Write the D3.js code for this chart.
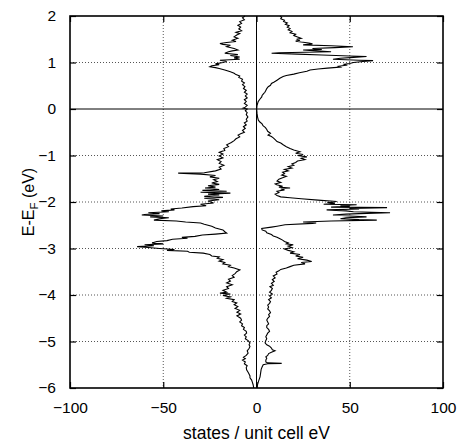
<!DOCTYPE html>
<html>
<head>
<meta charset="utf-8">
<script src="https://cdn.jsdelivr.net/npm/d3@7"></script>
<style>
  body { margin: 0; background: #fff; }
  text { font-family: "Liberation Sans", Arial, sans-serif; }
</style>
</head>
<body>
<script>
let width = 461
let height = 443
let margin = { top: 16, right: 18, bottom: 55, left: 70 }

// tick values
let xTicks = [-100, -50, 0, 50, 100]
let yTicks = [-6, -5, -4, -3, -2, -1, 0, 1, 2]

// spin down, [E - EF, states] (drawn to the left)
let spinDown = [
  [2.00, -6.2], [1.96, -7.5], [1.92, -6.5], [1.88, -9], [1.84, -8], [1.80, -10], [1.76, -8.5], [1.72, -9.5],
  [1.68, -8], [1.65, -11], [1.62, -9], [1.59, -10.6], [1.55, -12], [1.52, -10], [1.48, -13], [1.45, -11],
  [1.43, -16], [1.41, -19.6], [1.39, -18], [1.37, -14], [1.34, -16], [1.30, -12], [1.27, -10], [1.25, -13],
  [1.23, -15], [1.20, -17], [1.17, -10], [1.15, -14], [1.12, -9], [1.10, -12], [1.07, -9], [1.05, -19.6],
  [1.02, -16], [1.00, -18], [0.97, -22], [0.95, -20], [0.93, -24], [0.91, -25], [0.89, -22], [0.87, -20],
  [0.84, -17], [0.80, -14], [0.77, -12], [0.74, -11], [0.71, -9], [0.68, -9.5], [0.64, -7.5], [0.60, -8],
  [0.56, -6.5], [0.52, -7.5], [0.48, -6.2], [0.44, -7], [0.40, -5.5], [0.36, -6.5], [0.32, -5], [0.28, -6],
  [0.24, -5], [0.20, -6.5], [0.16, -5.5], [0.12, -6.5], [0.08, -5], [0.04, -6], [0.02, -7.2], [0.00, -5],
  [-0.04, -6], [-0.08, -5], [-0.12, -5.5], [-0.17, -4.6], [-0.22, -5.5], [-0.26, -5], [-0.30, -6.5], [-0.34, -5.5],
  [-0.38, -7], [-0.42, -6], [-0.46, -7.5], [-0.50, -6.5], [-0.53, -8.5], [-0.56, -9.9], [-0.60, -9], [-0.64, -11],
  [-0.68, -12], [-0.72, -13.5], [-0.77, -16], [-0.81, -15], [-0.85, -17.5], [-0.89, -17], [-0.93, -20], [-0.97, -18],
  [-1.01, -20], [-1.05, -18], [-1.09, -21], [-1.13, -19], [-1.17, -20], [-1.21, -17.5], [-1.25, -20], [-1.29, -19],
  [-1.33, -22], [-1.37, -28], [-1.38, -42], [-1.40, -30], [-1.43, -22], [-1.46, -25], [-1.49, -20], [-1.52, -23],
  [-1.56, -21], [-1.59, -24], [-1.62, -20], [-1.65, -26], [-1.68, -22], [-1.70, -27.6], [-1.73, -20], [-1.75, -29],
  [-1.77, -16], [-1.79, -30], [-1.81, -14], [-1.83, -26], [-1.85, -20], [-1.88, -28], [-1.90, -18], [-1.92, -28],
  [-1.95, -20], [-1.98, -26], [-2.02, -23], [-2.05, -30], [-2.08, -27], [-2.10, -34], [-2.13, -40], [-2.15, -46],
  [-2.17, -44], [-2.19, -51], [-2.21, -47], [-2.23, -58], [-2.25, -52], [-2.27, -60], [-2.28, -61.5], [-2.30, -50],
  [-2.32, -57], [-2.34, -47], [-2.36, -52], [-2.39, -55], [-2.41, -43], [-2.43, -38], [-2.45, -30], [-2.48, -28],
  [-2.52, -24], [-2.56, -22], [-2.60, -18], [-2.64, -17], [-2.67, -16], [-2.69, -22], [-2.71, -29], [-2.74, -33],
  [-2.76, -40], [-2.78, -37], [-2.80, -45], [-2.83, -48], [-2.85, -53.5], [-2.88, -56], [-2.90, -50], [-2.92, -60],
  [-2.94, -55], [-2.96, -64], [-2.98, -58], [-3.00, -52], [-3.02, -44], [-3.04, -48], [-3.06, -37], [-3.08, -36],
  [-3.10, -28.6], [-3.13, -25], [-3.16, -24], [-3.18, -20], [-3.21, -21], [-3.24, -18], [-3.27, -20], [-3.30, -17],
  [-3.33, -18], [-3.36, -14], [-3.39, -15], [-3.42, -12], [-3.46, -8.9], [-3.50, -10.6], [-3.54, -11.5], [-3.58, -13],
  [-3.62, -12], [-3.66, -15], [-3.70, -14], [-3.74, -16], [-3.78, -13], [-3.82, -16], [-3.86, -15], [-3.90, -18],
  [-3.94, -16], [-3.96, -19.6], [-3.98, -14], [-4.01, -18], [-4.04, -14], [-4.07, -16], [-4.10, -12], [-4.14, -13],
  [-4.17, -10.6], [-4.21, -12], [-4.25, -10], [-4.29, -11.5], [-4.33, -9], [-4.37, -10.5], [-4.41, -8.5], [-4.45, -10.5],
  [-4.50, -8.5], [-4.54, -8], [-4.58, -9], [-4.62, -7.5], [-4.66, -8], [-4.70, -6.5], [-4.74, -7], [-4.78, -5.5],
  [-4.82, -5.3], [-4.86, -6.5], [-4.90, -5.5], [-4.94, -6], [-4.98, -4.5], [-5.03, -3.5], [-5.07, -4], [-5.11, -3.5],
  [-5.15, -4], [-5.20, -5], [-5.25, -4.5], [-5.30, -5.5], [-5.34, -7], [-5.37, -6], [-5.40, -7.5], [-5.44, -6],
  [-5.48, -6.5], [-5.52, -5], [-5.56, -5.5], [-5.61, -5.3], [-5.66, -4.5], [-5.70, -4], [-5.74, -3.5], [-5.78, -3.5],
  [-5.83, -2.6], [-5.88, -2.2], [-5.93, -1.8], [-6.00, -1.5]
]

// spin up, [E - EF, states] (drawn to the right)
let spinUp = [
  [2.00, 12.6], [1.97, 13.5], [1.94, 13], [1.91, 15], [1.88, 14.5], [1.85, 16.5], [1.82, 15.5], [1.79, 17.5],
  [1.76, 16.5], [1.73, 18], [1.70, 17], [1.67, 19], [1.64, 18], [1.61, 21], [1.58, 20], [1.55, 22],
  [1.52, 24], [1.50, 21.5], [1.48, 23.3], [1.46, 21], [1.44, 24], [1.42, 28], [1.40, 30], [1.38, 25],
  [1.36, 40], [1.34, 51.7], [1.32, 42], [1.30, 30], [1.28, 35], [1.27, 25], [1.25, 32], [1.23, 40],
  [1.21, 12], [1.20, 8.1], [1.18, 22], [1.16, 35], [1.14, 50], [1.13, 59], [1.11, 52], [1.09, 45],
  [1.07, 41], [1.05, 55], [1.04, 62.5], [1.02, 57], [1.00, 52], [0.98, 50], [0.96, 47], [0.94, 48],
  [0.92, 44], [0.90, 45], [0.88, 38], [0.86, 33], [0.84, 28.7], [0.81, 27], [0.78, 23], [0.75, 20],
  [0.72, 16], [0.70, 14.3], [0.66, 12.5], [0.62, 11], [0.58, 9.5], [0.55, 8], [0.51, 7.5], [0.48, 6.3],
  [0.44, 5.5], [0.40, 5], [0.36, 4.5], [0.33, 3.8], [0.29, 3], [0.26, 2.8], [0.21, 1.8], [0.16, 0.9],
  [0.08, 0.3], [0.00, 0.1], [-0.10, 0.3], [-0.18, 0.6], [-0.24, 1], [-0.28, 1.8], [-0.32, 3], [-0.36, 3.5],
  [-0.40, 4.8], [-0.44, 5.5], [-0.48, 6], [-0.52, 7.5], [-0.56, 6.2], [-0.59, 8], [-0.62, 9], [-0.66, 10],
  [-0.70, 11], [-0.73, 13], [-0.77, 14.3], [-0.81, 16], [-0.85, 18], [-0.88, 20], [-0.92, 23.3], [-0.95, 21],
  [-0.98, 25], [-1.00, 22], [-1.03, 27], [-1.06, 24], [-1.09, 26], [-1.12, 22], [-1.15, 21], [-1.18, 19],
  [-1.21, 20], [-1.24, 17], [-1.27, 19], [-1.30, 15], [-1.33, 17], [-1.36, 14], [-1.39, 15], [-1.42, 13.5],
  [-1.45, 16], [-1.48, 14], [-1.51, 12], [-1.55, 11], [-1.58, 13], [-1.61, 10], [-1.63, 10.8], [-1.66, 14],
  [-1.68, 12], [-1.70, 18], [-1.72, 13], [-1.74, 15], [-1.77, 11], [-1.80, 12], [-1.83, 10], [-1.86, 11],
  [-1.89, 13], [-1.91, 18], [-1.93, 24], [-1.96, 33], [-1.99, 43], [-2.01, 38], [-2.03, 42], [-2.05, 36],
  [-2.06, 53.7], [-2.08, 45], [-2.09, 50], [-2.11, 40], [-2.12, 70], [-2.14, 50], [-2.15, 55], [-2.17, 37.6],
  [-2.19, 48], [-2.21, 52], [-2.23, 71.6], [-2.25, 55], [-2.26, 48], [-2.28, 41], [-2.30, 50], [-2.32, 59],
  [-2.34, 48], [-2.36, 45], [-2.38, 55], [-2.39, 64.5], [-2.41, 40], [-2.43, 25], [-2.45, 32], [-2.46, 30],
  [-2.49, 15.3], [-2.52, 11], [-2.54, 8], [-2.57, 2.8], [-2.60, 3], [-2.63, 5], [-2.66, 5.5], [-2.70, 8],
  [-2.73, 9], [-2.76, 11], [-2.79, 12.6], [-2.82, 14], [-2.85, 15], [-2.88, 17], [-2.90, 16], [-2.92, 19.7],
  [-2.95, 17], [-2.98, 19], [-3.01, 15], [-3.04, 17], [-3.07, 20], [-3.10, 18], [-3.13, 23.3], [-3.16, 21],
  [-3.19, 25], [-3.22, 22], [-3.25, 27], [-3.28, 29.6], [-3.30, 24], [-3.33, 26], [-3.36, 20], [-3.39, 18],
  [-3.42, 16], [-3.45, 13], [-3.48, 12], [-3.51, 10.5], [-3.55, 11], [-3.59, 9], [-3.63, 10], [-3.67, 8.5],
  [-3.71, 9.5], [-3.75, 8], [-3.79, 9], [-3.82, 7.2], [-3.86, 8.5], [-3.90, 8], [-3.94, 7], [-3.98, 8.5],
  [-4.02, 7], [-4.06, 8], [-4.10, 6.5], [-4.14, 7.5], [-4.18, 7], [-4.22, 6], [-4.26, 6.5], [-4.30, 6],
  [-4.34, 7], [-4.38, 7.5], [-4.42, 6.5], [-4.46, 7], [-4.50, 6], [-4.54, 5.5], [-4.58, 6], [-4.62, 6.5],
  [-4.66, 5.5], [-4.70, 5.5], [-4.74, 6.5], [-4.78, 7], [-4.82, 6], [-4.86, 5.5], [-4.90, 5], [-4.94, 5.5],
  [-4.98, 5], [-5.03, 4.6], [-5.07, 5.5], [-5.10, 7], [-5.14, 8], [-5.18, 8.5], [-5.20, 9.9], [-5.23, 8],
  [-5.26, 6.5], [-5.30, 6], [-5.33, 5], [-5.36, 5.5], [-5.40, 5], [-5.44, 5], [-5.46, 6], [-5.47, 13.5],
  [-5.48, 6], [-5.50, 3.6], [-5.55, 3], [-5.60, 2.5], [-5.68, 2.2], [-5.76, 1.9], [-5.84, 1.2], [-5.92, 0.6],
  [-6.00, 0.3]
]

const w = width - margin.left - margin.right
const h = height - margin.top - margin.bottom

const svg = d3.select("body")
  .append("svg")
  .attr("width", width)
  .attr("height", height)

const g = svg.append("g")
  .attr("transform", `translate(${margin.left},${margin.top})`)

const x = d3.scaleLinear().domain([-100, 100]).range([0, w])
const y = d3.scaleLinear().domain([-6, 2]).range([h, 0])

// dotted grid
g.append("g")
  .selectAll("line")
  .data(xTicks.filter(d => d > -100 && d < 100 && d !== 0))
  .join("line")
  .attr("x1", d => x(d)).attr("x2", d => x(d))
  .attr("y1", 0).attr("y2", h)
  .attr("stroke", "#555").attr("stroke-width", 1)
  .attr("stroke-dasharray", "1,2")
g.append("g")
  .selectAll("line")
  .data(yTicks.filter(d => d > -6 && d < 2 && d !== 0))
  .join("line")
  .attr("x1", 0).attr("x2", w)
  .attr("y1", d => y(d)).attr("y2", d => y(d))
  .attr("stroke", "#555").attr("stroke-width", 1)
  .attr("stroke-dasharray", "1,2")

// zero axes
g.append("line")
  .attr("x1", x(0)).attr("x2", x(0)).attr("y1", 0).attr("y2", h)
  .attr("stroke", "#000").attr("stroke-width", 1)
g.append("line")
  .attr("x1", 0).attr("x2", w).attr("y1", y(0)).attr("y2", y(0))
  .attr("stroke", "#000").attr("stroke-width", 1)

// dos curves
const line = d3.line().x(d => x(d[1])).y(d => y(d[0]))
g.append("path").datum(spinDown).attr("d", line)
  .attr("fill", "none").attr("stroke", "#000").attr("stroke-width", 1.1)
g.append("path").datum(spinUp).attr("d", line)
  .attr("fill", "none").attr("stroke", "#000").attr("stroke-width", 1.1)

// axes, ticks pointing inward on all sides
const fmt = d3.format("d")
const axB = g.append("g").attr("transform", `translate(0,${h})`)
  .call(d3.axisBottom(x).tickValues(xTicks).tickSize(-6).tickPadding(14).tickFormat(fmt))
const axT = g.append("g")
  .call(d3.axisTop(x).tickValues(xTicks).tickSize(-6).tickFormat(""))
const axL = g.append("g")
  .call(d3.axisLeft(y).tickValues(yTicks).tickSize(-6).tickPadding(14).tickFormat(fmt))
const axR = g.append("g").attr("transform", `translate(${w},0)`)
  .call(d3.axisRight(y).tickValues(yTicks).tickSize(-6).tickFormat(""))

for (const a of [axB, axT, axL, axR]) {
  a.select(".domain").remove()
  a.selectAll("line").attr("stroke", "#000").attr("stroke-width", 1.2)
  a.selectAll("text").attr("font-size", 15.5).attr("fill", "#000")
    .attr("font-family", "Liberation Sans, Arial, sans-serif")
}

// frame
g.append("rect")
  .attr("x", 0).attr("y", 0).attr("width", w).attr("height", h)
  .attr("fill", "none").attr("stroke", "#000").attr("stroke-width", 1.6)

// axis titles
svg.append("text")
  .attr("x", margin.left + w / 2).attr("y", 439)
  .attr("text-anchor", "middle").attr("font-size", 17.5)
  .text("states / unit cell eV")

const yl = svg.append("text")
  .attr("transform", `translate(34,${margin.top + h / 2}) rotate(-90)`)
  .attr("text-anchor", "middle").attr("font-size", 16)
yl.append("tspan").text("E-E")
yl.append("tspan").text("F").attr("font-size", 11.5).attr("dy", 4)
yl.append("tspan").text(" (eV)").attr("dy", -4)
</script>
</body>
</html>
